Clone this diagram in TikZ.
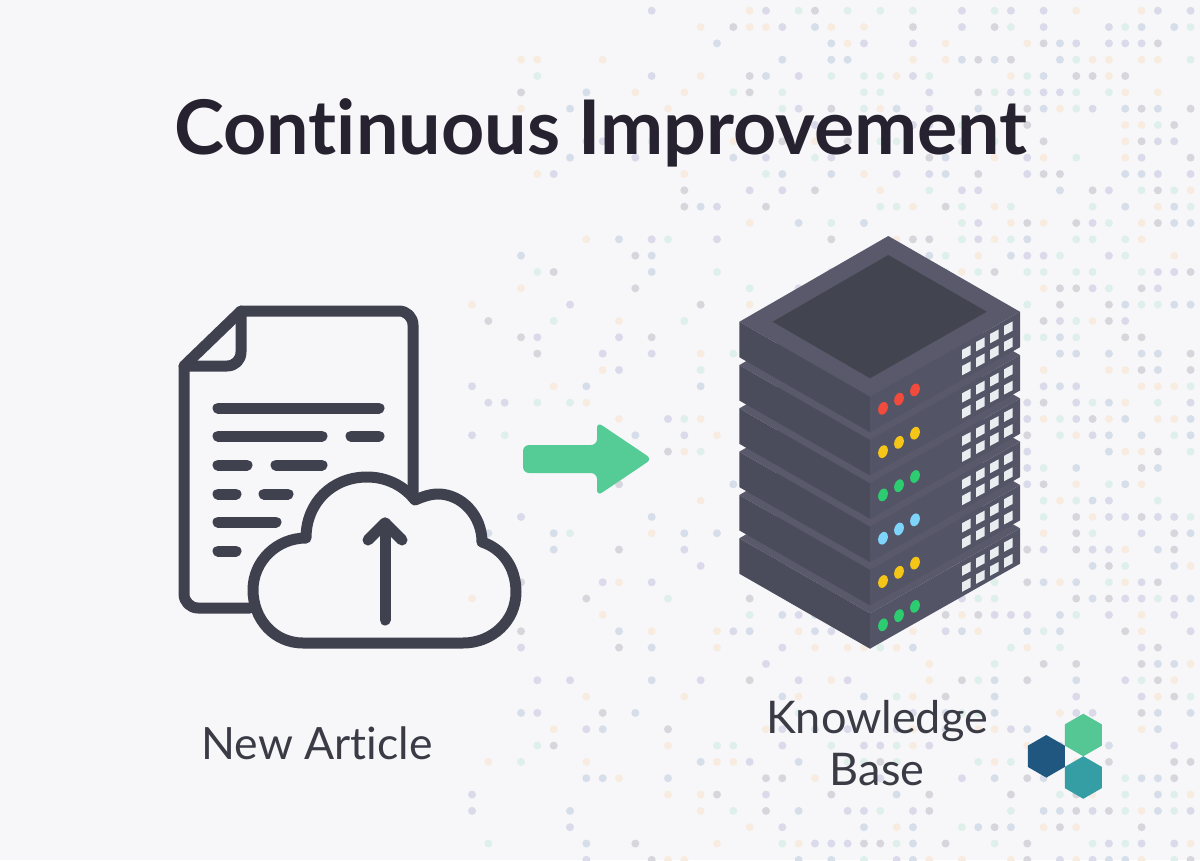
\documentclass[tikz,border=0pt]{standalone}
\usepackage{fontspec}
\setmainfont{Lato}[Ligatures=NoCommon]
\usetikzlibrary{shapes.geometric}
\definecolor{pagebg}{HTML}{F7F7FA}
\definecolor{inkdark}{HTML}{26222F}
\definecolor{inktext}{HTML}{3B3B46}
\definecolor{iconline}{HTML}{3F424E}
\definecolor{arrowgreen}{HTML}{55CC96}
\definecolor{rackleft}{HTML}{4A4B5B}
\definecolor{rackright}{HTML}{535465}
\definecolor{racktop}{HTML}{59596B}
\definecolor{rackwell}{HTML}{42444F}
\definecolor{rackport}{HTML}{E9EDF0}
\definecolor{ledred}{HTML}{F04B3C}
\definecolor{ledyellow}{HTML}{F5C518}
\definecolor{ledgreen}{HTML}{2ECC71}
\definecolor{ledblue}{HTML}{7FD4FB}
\definecolor{hexgreen}{HTML}{55C795}
\definecolor{hexblue}{HTML}{1F5780}
\definecolor{hexteal}{HTML}{349EA4}
\definecolor{dot1}{HTML}{D6D6DC}
\definecolor{dot2}{HTML}{DADAEA}
\definecolor{dot3}{HTML}{D5DEE9}
\definecolor{dot4}{HTML}{DFF0EA}
\definecolor{dot5}{HTML}{F8ECE1}
\tikzset{
  iconstroke/.style={draw=iconline, line width=11pt, line cap=round, line join=round},
  hexlogo/.style={regular polygon, regular polygon sides=6, shape border rotate=30, minimum size=42.6pt, inner sep=0pt}
}

\begin{document}
\begin{tikzpicture}[x=1pt, y=-1pt]
\useasboundingbox (0,0) rectangle (1200,860);
\fill[pagebg] (0,0) rectangle (1200,860);

% Dot field
\pgfmathsetseed{42}
\foreach \i in {28,...,72}{
  \foreach \j in {0,...,52}{
    \pgfmathsetmacro\dotx{14.8+16.33*\i}
    \pgfmathsetmacro\doty{10.7+16.33*\j}
    \pgfmathtruncatemacro\keep{rnd<(0.1+0.55*(\dotx-450)/750)&&(\doty>50||\dotx>640)&&(\doty>300||\dotx>515)}
    \pgfmathrandominteger\pick{1}{5}
    \ifnum\keep=1 \fill[dot\pick] (\dotx,\doty) circle[radius=4]; \fi
  }
}

% Title and labels
\node[font=\fontsize{75.4}{80}\selectfont\bfseries, text=inkdark, anchor=base] (title) at (601,154) {Continuous Improvement};
\node[font=\fontsize{44.5}{52}\selectfont, text=inktext, anchor=base] (newarticle) at (317,759) {New Article};
\node[font=\fontsize{45}{52}\selectfont, text=inktext, anchor=base, align=center] (knowledgebase) at (877,785) {Knowledge\\Base};

% Document icon
\draw[iconstroke] (250,608) -- (198,608) arc[start angle=90, end angle=180, radius=14] -- (184,366) -- (241,311) -- (399,311) arc[start angle=-90, end angle=0, radius=14] -- (413,497);
\draw[iconstroke] (241,311) -- (241,352) .. controls (241,360) and (235,366) .. (227,366) -- (184,366);
\draw[iconstroke] (218,408) -- (379,408);
\draw[iconstroke] (218,436) -- (322,436);
\draw[iconstroke] (351,436) -- (379,436);
\draw[iconstroke] (218,465) -- (247,465);
\draw[iconstroke] (276,465) -- (322,465);
\draw[iconstroke] (218,494) -- (236,494);
\draw[iconstroke] (264,494) -- (288,494);
\draw[iconstroke] (218,522) -- (276,522);
\draw[iconstroke] (218,551) -- (236,551);

% Cloud with upload arrow
\draw[iconstroke] (306,538) .. controls (306,503) and (332,477) .. (367,477)
  .. controls (387,477) and (404,486) .. (415,500)
  .. controls (422,497) and (430,494) .. (438,494)
  .. controls (462,494) and (482,516) .. (482,542)
  .. controls (503,549) and (516,568) .. (516,592)
  .. controls (516,621) and (492,643) .. (463,643)
  -- (303,643)
  .. controls (274,643) and (253,619) .. (253,590)
  .. controls (253,561) and (277,538) .. (306,538) -- cycle;
\draw[iconstroke] (385,620) -- (385,523);
\draw[iconstroke] (368,540) -- (385,523) -- (402,540);

% Green arrow
\fill[arrowgreen, rounded corners=6pt] (523,445) -- (597,445) -- (597,422) -- (652,459) -- (597,496) -- (597,473) -- (523,473) -- cycle;

% Server rack, bottom layer first
\foreach \t/\led in {538.3/ledgreen, 495/ledyellow, 451.7/ledblue, 408.4/ledgreen, 365.1/ledyellow, 321.8/ledred}{
  \fill[racktop] (739.3,\t) -- (870,\t+75) -- (1020,\t-10) -- (888.3,\t-85.8) -- cycle;
  \fill[rackleft] (739.3,\t) -- (870,\t+75) -- (870,\t+110.4) -- (739.3,\t+35.4) -- cycle;
  \fill[rackright] (870,\t+75) -- (1020,\t-10) -- (1020,\t+25.4) -- (870,\t+110.4) -- cycle;
  \foreach \n in {0,1,2}{
    \fill[\led] (883+16*\n,\t+86.5-9.2*\n) ellipse[x radius=4.6, y radius=6.6, rotate=-20];
  }
  \foreach \c in {0,1,2,3}{
    \foreach \r in {0,1}{
      \fill[rackport] (962+14*\c,\t+28.2-8*\c+16*\r) -- ++(8.7,-4.6) -- ++(0,9.3) -- ++(-8.7,4.6) -- cycle;
    }
  }
}
\fill[rackwell] (888.3,255) -- (986.7,311.7) -- (870,378.3) -- (772.7,321.7) -- cycle;

% Logo
\node[hexlogo, fill=hexgreen] (hextop) at (1083.3,735) {};
\node[hexlogo, fill=hexblue] (hexleft) at (1046.3,756.3) {};
\node[hexlogo, fill=hexteal] (hexbottom) at (1083.3,777.5) {};
\end{tikzpicture}
\end{document}
